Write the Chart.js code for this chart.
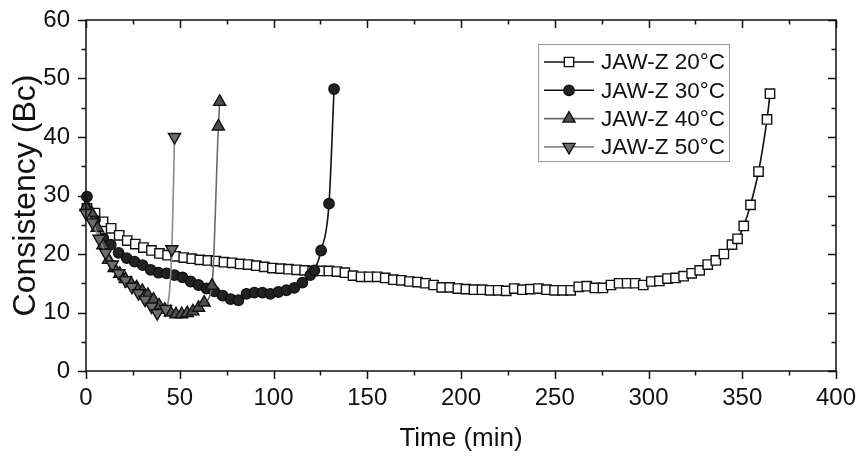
<!DOCTYPE html>
<html>
<head>
<meta charset="utf-8">
<script src="https://cdn.jsdelivr.net/npm/chart.js@4.4.1/dist/chart.umd.min.js"></script>
<style>
  html, body { margin: 0; padding: 0; background: #fff; }
  #wrap { width: 859px; height: 456px; position: relative; }
</style>
</head>
<body>
<div id="wrap"><canvas id="chart"></canvas></div>
<script>
// ===== DATA =====
const time20 = [0.5, 4.8, 9.1, 13.4, 17.7, 22.0, 26.3, 30.6, 34.9, 39.2, 43.5, 47.8, 52.1, 56.4, 60.7, 65.0,
  69.3, 73.6, 77.9, 82.2, 86.5, 90.8, 95.1, 99.4, 103.7, 108.0, 112.3, 116.6, 120.9, 125.2, 129.5, 133.8,
  138.1, 142.4, 146.7, 151.0, 155.3, 159.6, 163.9, 168.2, 172.5, 176.8, 181.1, 185.4, 189.7, 194.0, 198.3,
  202.6, 206.9, 211.2, 215.5, 219.8, 224.1, 228.4, 232.7, 237.0, 241.3, 245.6, 249.9, 254.2, 258.5, 262.8,
  267.1, 271.4, 275.7, 280.0, 284.3, 288.6, 292.9, 297.2, 301.5, 305.8, 310.1, 314.4, 318.7, 323.0, 327.3,
  331.6, 335.9, 340.2, 344.5, 347.5, 350.8, 354.4, 358.7, 363.2, 364.8];
const bc20 = [27.8, 27.0, 25.5, 24.4, 23.2, 22.3, 21.7, 21.1, 20.6, 20.1, 19.8, 19.6, 19.4, 19.2, 19.0, 18.9,
  18.8, 18.6, 18.5, 18.3, 18.2, 18.0, 17.8, 17.6, 17.5, 17.4, 17.3, 17.2, 17.1, 17.1, 17.1, 17.0,
  16.8, 16.3, 16.1, 16.1, 16.1, 15.9, 15.6, 15.5, 15.3, 15.2, 15.0, 14.7, 14.3, 14.3, 14.1,
  14.0, 13.9, 13.9, 13.8, 13.8, 13.7, 14.1, 13.9, 14.0, 14.1, 13.9, 13.8, 13.8, 13.8, 14.4,
  14.5, 14.2, 14.2, 14.7, 15.0, 15.0, 15.0, 14.7, 15.3, 15.4, 15.8, 15.9, 16.2, 16.7, 17.2,
  18.2, 18.9, 20.0, 21.6, 22.6, 24.8, 28.4, 34.1, 43.0, 47.4];

const time30 = [0.5, 4.8, 9.2, 13.2, 17.4, 21.7, 25.9, 30.2, 34.5, 38.7, 43.0, 47.2, 51.5, 55.8, 60.0,
  64.3, 68.5, 72.8, 77.1, 81.3, 85.6, 89.8, 94.1, 98.3, 102.6, 106.9, 111.1, 115.4, 119.6, 121.8,
  125.4, 129.6, 132.3];
const bc30 = [29.8, 25.8, 22.7, 21.6, 20.2, 19.3, 18.7, 18.1, 17.3, 16.8, 16.7, 16.4, 16.0, 15.3, 14.7,
  14.1, 13.6, 12.9, 12.3, 12.1, 13.2, 13.4, 13.4, 13.2, 13.5, 13.8, 14.2, 15.1, 16.4, 17.2,
  20.6, 28.6, 48.2];

const time40 = [0, 3.0, 6.0, 9.0, 12.0, 15.0, 18.0, 21.0, 24.0, 27.0, 30.0, 33.0, 36.0, 39.0, 42.0,
  45.0, 48.0, 51.0, 54.0, 57.0, 60.0, 63.0, 67.2, 70.6, 71.3];
const bc40 = [28.0, 27.0, 24.5, 21.5, 19.0, 17.6, 16.6, 15.7, 15.0, 14.3, 13.7, 13.0, 12.2, 11.2, 10.5,
  10.0, 9.7, 9.7, 9.9, 10.2, 10.8, 11.7, 14.6, 41.8, 46.0];

const time50 = [0, 3.5, 7.0, 10.5, 14.0, 17.5, 21.0, 24.5, 28.0, 31.5, 35.0, 38.0, 42.5, 45.8, 47.2];
const bc50 = [27.0, 25.4, 22.6, 20.2, 18.2, 16.7, 15.5, 14.4, 13.3, 12.2, 11.0, 9.9, 10.6, 20.8, 40.0];

const seriesNames = ["JAW-Z 20°C", "JAW-Z 30°C", "JAW-Z 40°C", "JAW-Z 50°C"];
const xTicks = [0, 50, 100, 150, 200, 250, 300, 350, 400];
const yTicks = [0, 10, 20, 30, 40, 50, 60];

const FONT = "'Liberation Sans', Arial, Helvetica, sans-serif";

function pairs(xs, ys) {
  return xs.map((x, i) => ({ x: x, y: ys[i] }));
}

// ===== STYLES PER SERIES =====
const styles = [
  { pointStyle: "rect", radius: 6.6, rotation: 0, fill: "#ffffff", line: "#111111" },
  { pointStyle: "circle", radius: 5.2, rotation: 0, fill: "#222222", line: "#111111" },
  { pointStyle: "triangle", radius: 7, rotation: 0, fill: "#4e4e4e", line: "#6a6a6a" },
  { pointStyle: "triangle", radius: 7, rotation: 180, fill: "#6c6c6c", line: "#8a8a8a" }
];
const dataSets = [pairs(time20, bc20), pairs(time30, bc30), pairs(time40, bc40), pairs(time50, bc50)];

const datasets = dataSets.map((d, i) => ({
  label: seriesNames[i],
  data: d,
  showLine: true,
  borderColor: styles[i].line,
  borderWidth: 1.6,
  pointStyle: styles[i].pointStyle,
  pointRadius: styles[i].radius,
  pointRotation: styles[i].rotation,
  pointBackgroundColor: styles[i].fill,
  pointBorderColor: "#111111",
  pointBorderWidth: 1.4,
  cubicInterpolationMode: "monotone",
  clip: false,
  order: 4 - i
}));

// ===== FRAME, TICKS AND LEGEND =====
const framePlugin = {
  id: "frame",
  afterDraw(chart) {
    const ctx = chart.ctx;
    const a = chart.chartArea;
    const xs = chart.scales.x;
    const ys = chart.scales.y;
    ctx.save();
    ctx.strokeStyle = "#111";
    ctx.lineWidth = 1.5;
    ctx.strokeRect(a.left, a.top, a.right - a.left, a.bottom - a.top);

    // x ticks: outward at bottom, inward at top
    for (let v = 0; v <= 400; v += 25) {
      const px = Math.round(xs.getPixelForValue(v)) + 0.5;
      const len = v % 50 === 0 ? 8 : 4.5;
      ctx.beginPath();
      ctx.moveTo(px, a.bottom);
      ctx.lineTo(px, a.bottom + len);
      ctx.moveTo(px, a.top);
      ctx.lineTo(px, a.top + len);
      ctx.stroke();
    }
    // y ticks: outward at left, inward at right
    for (let v = 0; v <= 60; v += 5) {
      const py = Math.round(ys.getPixelForValue(v)) + 0.5;
      const len = v % 10 === 0 ? 8 : 4.5;
      ctx.beginPath();
      ctx.moveTo(a.left, py);
      ctx.lineTo(a.left - len, py);
      ctx.moveTo(a.right, py);
      ctx.lineTo(a.right - len, py);
      ctx.stroke();
    }

    // legend box
    const bx = a.right - 298, by = a.top + 24, bw = 191, bh = 117;
    ctx.lineWidth = 1;
    ctx.strokeStyle = "#999";
    ctx.strokeRect(bx + 0.5, by + 0.5, bw, bh);
    ctx.font = "22.5px " + FONT;
    ctx.textBaseline = "middle";
    ctx.fillStyle = "#111";
    seriesNames.forEach((name, i) => {
      const cy = by + 18 + i * 28.3;
      const st = styles[i];
      ctx.strokeStyle = st.line;
      ctx.lineWidth = 1.6;
      ctx.beginPath();
      ctx.moveTo(bx + 6, cy);
      ctx.lineTo(bx + 56, cy);
      ctx.stroke();
      drawMarker(ctx, st, bx + 31, cy);
      ctx.fillStyle = "#111";
      ctx.fillText(name, bx + 63, cy + 1);
    });
    ctx.restore();
  }
};

function drawMarker(ctx, st, x, y) {
  ctx.save();
  ctx.fillStyle = st.fill;
  ctx.strokeStyle = "#111";
  ctx.lineWidth = 1.4;
  ctx.beginPath();
  const r = st.radius;
  if (st.pointStyle === "rect") {
    const s = r * Math.SQRT1_2;
    ctx.rect(x - s, y - s, 2 * s, 2 * s);
  } else if (st.pointStyle === "circle") {
    ctx.arc(x, y, r, 0, Math.PI * 2);
  } else {
    const dir = st.rotation === 180 ? -1 : 1;
    ctx.moveTo(x, y - dir * r);
    ctx.lineTo(x + r * 0.866, y + dir * r * 0.5);
    ctx.lineTo(x - r * 0.866, y + dir * r * 0.5);
    ctx.closePath();
  }
  ctx.fill();
  ctx.stroke();
  ctx.restore();
}

// ===== CHART =====
new Chart(document.getElementById("chart"), {
  type: "scatter",
  data: { datasets: datasets },
  options: {
    responsive: true,
    maintainAspectRatio: false,
    animation: false,
    layout: { padding: { left: 0, top: 20, right: 23, bottom: 0 } },
    plugins: { legend: { display: false }, tooltip: { enabled: false } },
    scales: {
      x: {
        type: "linear",
        min: 0, max: 400,
        afterBuildTicks: s => { s.ticks = xTicks.map(v => ({ value: v })); },
        afterFit: s => { s.height = 85; s.paddingLeft = 0; s.paddingRight = 0; },
        grid: { display: false, drawTicks: false },
        border: { display: false },
        ticks: { color: "#111", padding: 13, font: { family: FONT, size: 24 } },
        title: { display: true, text: "Time (min)", color: "#111", padding: { top: 10, bottom: 2 }, font: { family: FONT, size: 26 } }
      },
      y: {
        type: "linear",
        min: 0, max: 60,
        afterBuildTicks: s => { s.ticks = yTicks.map(v => ({ value: v })); },
        afterFit: s => { s.width = 86; s.paddingTop = 0; s.paddingBottom = 0; },
        grid: { display: false, drawTicks: false },
        border: { display: false },
        ticks: { color: "#111", padding: 16, font: { family: FONT, size: 24 } },
        title: { display: true, text: "Consistency (Bc)", color: "#111", padding: { top: 7, bottom: 4 }, font: { family: FONT, size: 32 } }
      }
    }
  },
  plugins: [framePlugin]
});
</script>
</body>
</html>
